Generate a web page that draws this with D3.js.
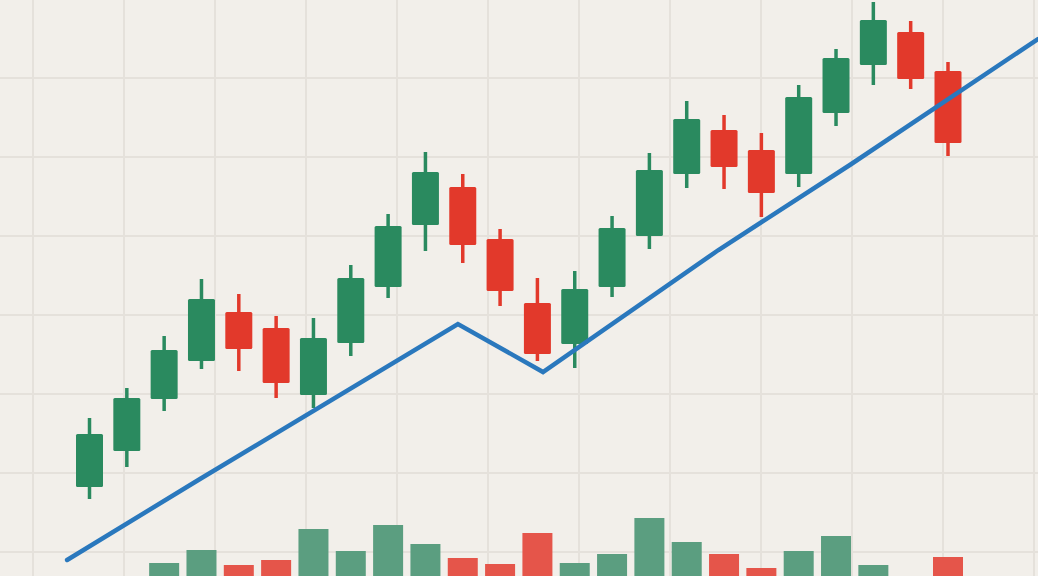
<!DOCTYPE html>
<html>
<head>
<meta charset="utf-8">
<script src="https://cdn.jsdelivr.net/npm/d3@7"></script>
<style>
  html, body { margin: 0; padding: 0; background: #f2efea; }
  svg { display: block; }
</style>
</head>
<body>
<svg id="chart" width="1038" height="576"></svg>
<script>
// candle data (index order, left to right)
const opens  = [22.6, 29.8, 40.2, 47.8, 57.6, 54.4, 41.0, 51.4, 62.6, 75.0, 82.6, 72.2, 59.4, 51.2, 62.6, 72.8, 85.2, 94.0, 90.0, 85.2, 97.4, 107.0, 113.6, 105.8];
const highs  = [36.4, 42.4, 52.8, 64.2, 61.2, 56.8, 56.4, 67.0, 77.2, 89.6, 85.2, 74.2, 64.4, 65.8, 76.8, 89.4, 99.8, 97.0, 93.4, 103.0, 110.2, 119.6, 115.8, 107.6];
const lows   = [20.2, 26.6, 37.8, 46.2, 45.8, 40.4, 38.4, 48.8, 60.4, 69.8, 67.4, 58.8, 47.8, 46.4, 60.6, 70.2, 82.4, 82.2, 76.6, 82.6, 94.8, 103.0, 102.2, 88.8];
const closes = [33.2, 40.4, 50.0, 60.2, 50.2, 43.4, 52.4, 64.4, 74.8, 85.6, 71.0, 61.8, 49.2, 62.2, 74.4, 86.0, 96.2, 86.6, 81.4, 100.6, 108.4, 116.0, 104.2, 91.4];
const volumes = [0, 0, 17, 30, 15, 20, 51, 29, 55, 36, 22, 16, 47, 17, 26, 62, 38, 26, 12, 29, 44, 15, 3, 23];

// trend line (x in candle index units, y in price units)
const trendX = [-0.6, 2.96, 9.87, 12.15, 16.85, 20.37, 25.41];
const trendY = [8.0, 24.2, 55.2, 45.6, 70.0, 87.0, 112.2];

const width = 1038, height = 576;
const green = '#2a8a5f', red = '#e2392b';
const volGreen = '#5b9e80', volRed = '#e5554a';

const svg = d3.select('#chart');

svg.append('rect')
  .attr('width', width)
  .attr('height', height)
  .attr('fill', '#f2efea');

// background grid
const gx = d3.scaleLinear().domain([0, 11]).range([33, 1034]);
const gy = d3.scaleLinear().domain([0, 6]).range([78, 552]);

svg.append('g')
  .selectAll('line')
  .data(d3.range(0, 12))
  .join('line')
  .attr('x1', d => gx(d)).attr('x2', d => gx(d))
  .attr('y1', 0).attr('y2', height)
  .attr('stroke', '#e5e1db')
  .attr('stroke-width', 2);

svg.append('g')
  .selectAll('line')
  .data(d3.range(0, 7))
  .join('line')
  .attr('y1', d => gy(d)).attr('y2', d => gy(d))
  .attr('x1', 0).attr('x2', width)
  .attr('stroke', '#e5e1db')
  .attr('stroke-width', 2);

const x = d3.scaleLinear().domain([0, 23]).range([89.5, 948]);
const y = d3.scaleLinear().domain([0, 120]).range([600, 0]);
const yv = d3.scaleLinear().domain([0, 100]).range([580, 480]);

const candles = opens.map((o, i) => ({
  i, open: o, high: highs[i], low: lows[i], close: closes[i], volume: volumes[i]
}));

// volume bars
svg.append('g')
  .selectAll('rect')
  .data(candles.filter(d => d.volume > 0))
  .join('rect')
  .attr('x', d => x(d.i) - 15)
  .attr('width', 30)
  .attr('y', d => yv(d.volume))
  .attr('height', d => yv(0) - yv(d.volume))
  .attr('fill', d => d.close >= d.open ? volGreen : volRed);

// candles
const cg = svg.append('g')
  .selectAll('g')
  .data(candles)
  .join('g')
  .attr('fill', d => d.close >= d.open ? green : red)
  .attr('stroke', d => d.close >= d.open ? green : red);

cg.append('line')
  .attr('x1', d => x(d.i)).attr('x2', d => x(d.i))
  .attr('y1', d => y(d.high)).attr('y2', d => y(d.low))
  .attr('stroke-width', 3.5);

cg.append('rect')
  .attr('x', d => x(d.i) - 13.5)
  .attr('width', 27)
  .attr('y', d => y(Math.max(d.open, d.close)))
  .attr('height', d => Math.abs(y(d.open) - y(d.close)))
  .attr('rx', 1.5)
  .attr('stroke', 'none');

// trend line
const line = d3.line()
  .x(d => x(d[0]))
  .y(d => y(d[1]));

svg.append('path')
  .datum(trendX.map((v, i) => [v, trendY[i]]))
  .attr('d', line)
  .attr('fill', 'none')
  .attr('stroke', '#2a78bd')
  .attr('stroke-width', 4.5)
  .attr('stroke-linejoin', 'miter')
  .attr('stroke-linecap', 'round');
</script>
</body>
</html>
